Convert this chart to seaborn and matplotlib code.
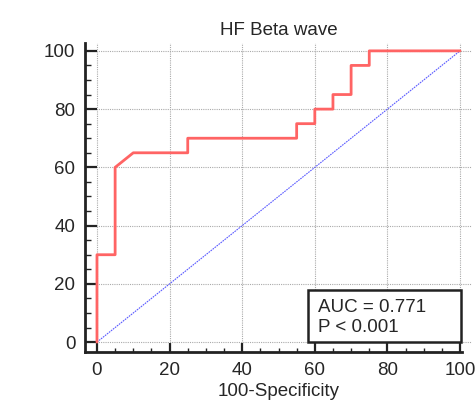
import matplotlib
matplotlib.use("Agg")
import matplotlib.pyplot as plt
import seaborn as sns
import pandas as pd
from matplotlib.ticker import MultipleLocator
from matplotlib.patches import Rectangle

# ROC curve vertices (100-Specificity, Sensitivity)
fpr = [0, 0, 5, 5, 10, 25, 25, 55, 55, 60, 60, 65, 65, 70, 70, 75, 75, 100]
tpr = [0, 30, 30, 60, 65, 65, 70, 70, 75, 75, 80, 80, 85, 85, 95, 95, 100, 100]
diag_x = [0, 100]
diag_y = [0, 100]
title = "HF Beta wave"
xlabel = "100-Specificity"
auc_lines = ["AUC = 0.771", "P < 0.001"]

sns.set_style("white")
plt.rcParams['font.family'] = ['Liberation Sans', 'DejaVu Sans']
FS = 13.5

fig = plt.figure(figsize=(4.77, 4.03), dpi=100)
ax = fig.add_axes([85/477, 51/403, (472-85)/477, (352-43)/403])

df = pd.DataFrame({"x": fpr, "y": tpr})
ax.grid(True, color="#aaaaaa", linestyle=(0, (1, 1)), linewidth=0.8)
ax.set_axisbelow(True)
sns.lineplot(data=df, x="x", y="y", sort=False, estimator=None, color="#ff6464",
             linewidth=2.0, ax=ax, zorder=3)
sns.lineplot(x=diag_x, y=diag_y, color="#5a5aff", linewidth=0.8,
             linestyle=(0, (1.5, 0.8)), ax=ax, zorder=2)

ax.set_xlim(-3.3, 103.3)
ax.set_ylim(-3.4, 102.7)
ax.xaxis.set_major_locator(MultipleLocator(20))
ax.yaxis.set_major_locator(MultipleLocator(20))
ax.xaxis.set_minor_locator(MultipleLocator(5))
ax.yaxis.set_minor_locator(MultipleLocator(5))

for s in ["top", "right"]:
    ax.spines[s].set_visible(False)
for s in ["left", "bottom"]:
    ax.spines[s].set_linewidth(2.0)
    ax.spines[s].set_color("#222222")
ax.spines["bottom"].set_bounds(-3.3, 100.6)

ax.tick_params(axis="x", which="major", direction="in", length=6.5, width=1.6,
               color="#222222", labelsize=FS, pad=7, bottom=True)
ax.tick_params(axis="x", which="minor", direction="in", length=3, width=1.0,
               color="#222222", bottom=True)
ax.tick_params(axis="y", which="major", direction="in", length=8.5, width=1.6,
               color="#222222", labelsize=FS, pad=7, left=True)
ax.tick_params(axis="y", which="minor", direction="in", length=4.3, width=1.0,
               color="#222222", left=True)

ax.set_title(title, fontsize=FS, pad=6)
ax.set_xlabel(xlabel, fontsize=FS, labelpad=3)
ax.set_ylabel("")

ax.add_patch(Rectangle((58.1, 0), 42.2, 17.9, facecolor="white",
                       edgecolor="#222222", linewidth=1.8, zorder=5))
ax.text(60.9, 10.3, auc_lines[0], fontsize=FS, ha="left", va="baseline", zorder=6)
ax.text(60.9, 3.4, auc_lines[1], fontsize=FS, ha="left", va="baseline", zorder=6)

fig.savefig("out.png", dpi=100)
